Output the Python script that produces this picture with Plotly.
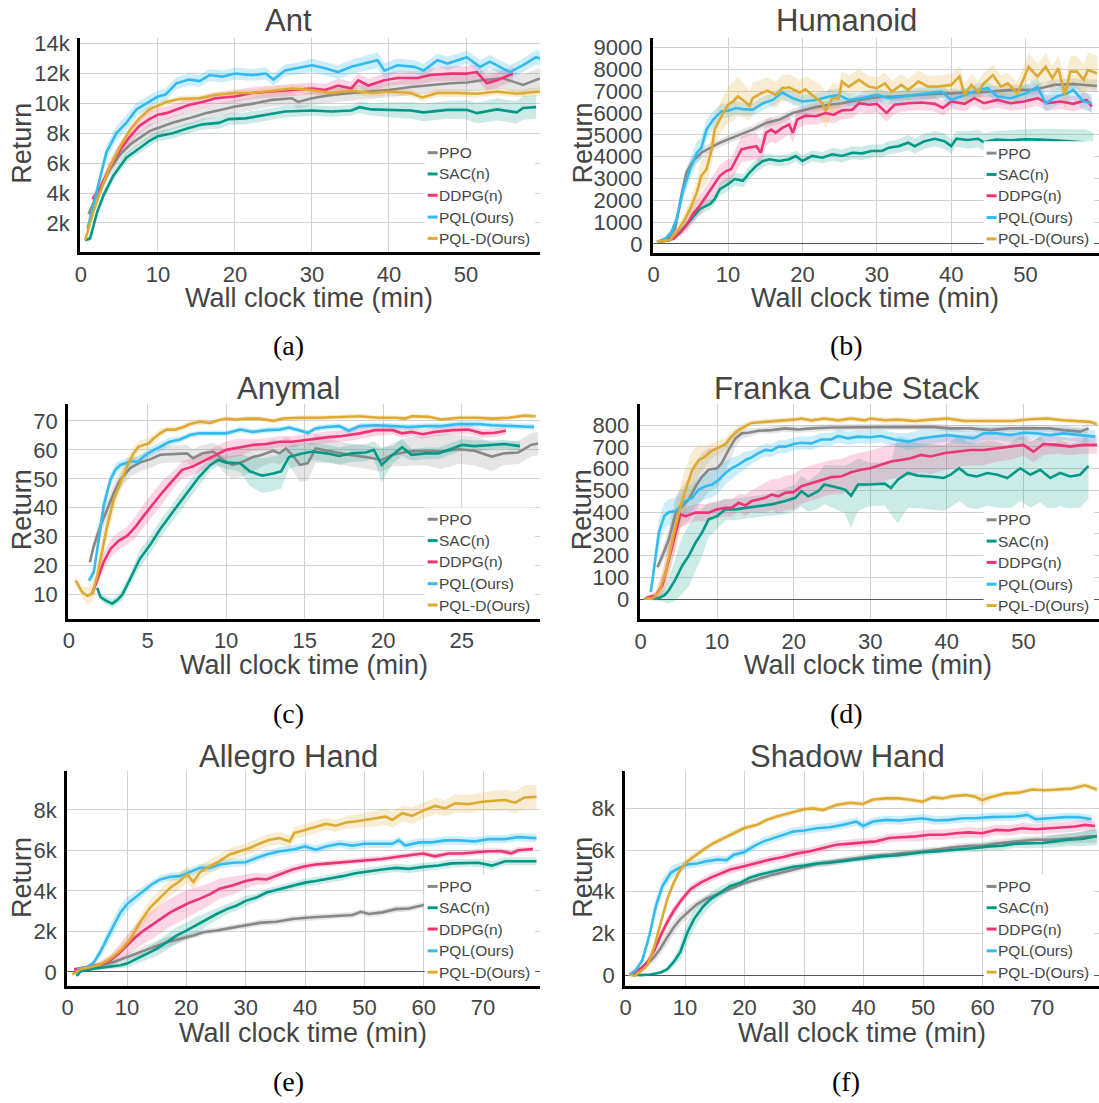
import plotly.graph_objects as go

W, H = 1099, 1103
FONT = "Liberation Sans, Arial, sans-serif"
SERIF = "Liberation Serif, Times New Roman, serif"
TXT = "#444444"

SERIES = ["PPO", "SAC(n)", "DDPG(n)", "PQL(Ours)", "PQL-D(Ours)"]
COLORS = ["#888888", "#009988", "#EE3377", "#33BBEE", "#DDAA33"]
BAND_RGB = ["136,136,136", "0,153,136", "238,51,119", "51,187,238", "221,170,51"]
BAND_ALPHA = [0.22, 0.2, 0.2, 0.25, 0.22]

# ---------------- (a) Ant ----------------
ANT_PPO_X = [1.0, 2.5, 3.8, 5.1, 6.4, 7.6, 8.9, 10, 11.9, 14, 16.2, 18.4, 20, 22.2, 24.8, 27.4, 28.2, 30, 32.5, 35.1, 37.7, 40, 42.8, 45.4, 48, 50.1, 52.3, 54.8, 57.4, 59.6]
ANT_PPO_Y = [2600, 4300, 5600, 6600, 7250, 7700, 8150, 8350, 8700, 9000, 9350, 9600, 9800, 9970, 10240, 10350, 10100, 10350, 10570, 10700, 10800, 10900, 11100, 11240, 11350, 11400, 11570, 11680, 11240, 11680]
ANT_PPO_S = [200, 300, 400, 450, 450, 450, 450, 450, 450, 450, 450, 450, 450, 450, 450, 450, 450, 450, 500, 500, 500, 500, 550, 550, 600, 600, 650, 700, 700, 700]
ANT_SAC_X = [0.56, 1.2, 2.1, 2.9, 4.2, 5.9, 7.6, 8.9, 10, 11.9, 14, 15.8, 17.9, 19.2, 21.4, 24, 26.5, 30, 32.5, 35.1, 36.2, 37.7, 40, 42.8, 44.5, 47.6, 50.1, 51.4, 54, 56.6, 57.4, 59.1]
ANT_SAC_Y = [840, 950, 2700, 3800, 5150, 6370, 7000, 7500, 7800, 8000, 8350, 8600, 8700, 8950, 9000, 9250, 9460, 9530, 9460, 9530, 9750, 9600, 9570, 9530, 9400, 9570, 9570, 9350, 9600, 9400, 9700, 9750]
ANT_SAC_S = [100, 150, 300, 350, 350, 350, 350, 350, 350, 350, 350, 350, 400, 400, 400, 400, 400, 350, 350, 350, 400, 400, 500, 550, 600, 600, 650, 700, 750, 750, 800, 800]
ANT_DDPG_X = [1.5, 2.5, 3.8, 5.1, 6.4, 7.6, 8.9, 10, 11.1, 12.4, 14, 15.8, 17.5, 20, 22.2, 24.8, 27.4, 30, 31.7, 33.4, 35.1, 36, 37.3, 39.4, 41.1, 43.7, 45.4, 48, 50.1, 51.4, 52.7, 54, 56.1]
ANT_DDPG_Y = [3600, 4300, 5800, 6900, 7800, 8500, 8950, 9250, 9350, 9600, 9900, 10100, 10350, 10460, 10700, 10800, 10900, 11000, 10900, 11200, 11000, 11550, 11200, 11550, 11700, 11700, 11900, 12000, 12000, 12100, 11350, 11550, 12000]
ANT_DDPG_S = [300, 400, 500, 500, 500, 500, 500, 450, 450, 450, 450, 400, 400, 400, 400, 400, 400, 400, 400, 450, 450, 450, 450, 450, 450, 450, 450, 500, 500, 500, 500, 500, 500]
ANT_PQL_X = [0.86, 2.5, 3.3, 4.6, 5.9, 7.2, 8.5, 10, 11, 12.4, 14, 15.4, 16.7, 18.4, 20, 22.2, 24, 25, 26.5, 28.2, 30, 31.7, 33.4, 35.1, 36.8, 38.5, 39.4, 41.1, 43.3, 44.5, 46.3, 47.6, 50.1, 51.8, 53.1, 55.7, 57.4, 59.1, 59.6]
ANT_PQL_Y = [1610, 5000, 6700, 8000, 8700, 9600, 10000, 10460, 10600, 11350, 11600, 11500, 11900, 11800, 12000, 11900, 12000, 11600, 12200, 12350, 12560, 12350, 12100, 12450, 12670, 12900, 12200, 12560, 12450, 12200, 12900, 12670, 13100, 12450, 12800, 12100, 12560, 13100, 13000]
ANT_PQL_S = [200, 400, 500, 500, 500, 450, 450, 400, 400, 400, 400, 400, 400, 400, 400, 400, 400, 400, 400, 400, 450, 450, 450, 500, 500, 550, 500, 450, 450, 450, 450, 450, 450, 450, 450, 450, 450, 500, 500]
ANT_PQLD_X = [0.56, 1.6, 2.5, 3.8, 5.1, 6.4, 7.6, 8.9, 10, 11.1, 12.8, 15.4, 17.5, 20, 22.2, 24.8, 27.4, 30, 32.5, 35.1, 37.7, 40, 42.8, 44.3, 46.3, 48.8, 51.4, 54, 56.6, 59.6]
ANT_PQLD_Y = [840, 2700, 4050, 5800, 7100, 8250, 9000, 9600, 9850, 10100, 10300, 10350, 10570, 10700, 10700, 10850, 11000, 10900, 10700, 10850, 10700, 10800, 10700, 10400, 10700, 10700, 10650, 10800, 10650, 10800]
ANT_PQLD_S = [100, 200, 250, 300, 300, 300, 250, 250, 200, 200, 200, 200, 200, 250, 250, 250, 250, 250, 250, 250, 250, 250, 250, 250, 250, 250, 250, 250, 250, 300]

# ---------------- (b) Humanoid ----------------
HUM_PPO_X = [0.44, 1.8, 2.9, 3.8, 4.4, 5.3, 6.4, 7.6, 8.9, 10, 11.6, 13.3, 15.1, 16.9, 18.7, 20, 21.8, 23.6, 25.3, 27.6, 30, 32.4, 35.1, 37.8, 40, 42.7, 45.3, 48, 50.7, 52, 53.8, 56.4, 59.6]
HUM_PPO_Y = [90, 170, 700, 2360, 3270, 3800, 4180, 4410, 4640, 4790, 5015, 5240, 5545, 5700, 6000, 6120, 6270, 6380, 6450, 6600, 6730, 6760, 6830, 6880, 6900, 6940, 6980, 7060, 7060, 7140, 7290, 7330, 7240]
HUM_PPO_S = [50, 80, 150, 250, 250, 250, 250, 200, 200, 200, 200, 200, 200, 200, 200, 200, 200, 200, 200, 200, 200, 200, 200, 200, 200, 200, 250, 250, 250, 250, 250, 250, 300]
HUM_SAC_X = [0.44, 2.2, 3.6, 4.4, 5.3, 6.2, 7.6, 8.2, 8.9, 10, 10.9, 12, 12.9, 13.8, 14.7, 15.6, 16.9, 18.2, 19.1, 20, 21.3, 22.7, 24, 25.3, 26.7, 28, 29.3, 30.7, 31.6, 32.9, 34.2, 35.1, 36.4, 37.8, 39.1, 40, 40.7, 42.2, 43.6, 44.4, 46, 48, 50, 52, 54, 56, 58, 59.1]
HUM_SAC_Y = [90, 170, 545, 850, 1230, 1600, 1830, 2060, 2510, 2740, 2970, 2890, 3270, 3580, 3800, 3880, 3800, 3880, 4030, 3800, 4030, 3950, 4110, 4030, 4180, 4150, 4260, 4260, 4410, 4480, 4640, 4480, 4710, 4820, 4710, 4480, 4820, 4760, 4820, 4670, 4780, 4750, 4800, 4780, 4750, 4700, 4650, 4410]
HUM_SAC_S = [50, 80, 150, 200, 250, 250, 250, 250, 300, 300, 300, 300, 300, 300, 300, 250, 250, 250, 250, 250, 250, 250, 300, 300, 300, 300, 300, 300, 300, 300, 350, 350, 350, 350, 350, 350, 350, 400, 400, 400, 400, 450, 450, 500, 500, 550, 600, 700]
HUM_DDPG_X = [1.3, 2.7, 3.6, 4.4, 5.3, 6.2, 7.1, 8, 8.9, 9.8, 10.4, 11.1, 11.8, 12.7, 13.8, 14.4, 15.1, 15.8, 16.4, 17.3, 18.2, 18.7, 19.3, 20.4, 21.8, 23.1, 24.2, 25.3, 26.7, 27.6, 28.9, 30, 31.3, 32.4, 34.2, 36, 37.8, 38.9, 40, 41.8, 43.1, 44.4, 46.2, 48, 49.8, 51.6, 52.9, 54.7, 56.4, 58.2, 58.9]
HUM_DDPG_Y = [120, 240, 545, 850, 1380, 1760, 2210, 2670, 3120, 3350, 3420, 3880, 4330, 4410, 4480, 4180, 5090, 5240, 5090, 5320, 5470, 5090, 5700, 5880, 5850, 6000, 5920, 6120, 6150, 6450, 6380, 6420, 6000, 6380, 6450, 6480, 6420, 6230, 6530, 6420, 6680, 6450, 6600, 6450, 6530, 6680, 6450, 6530, 6420, 6600, 6300]
HUM_DDPG_S = [50, 100, 200, 300, 400, 450, 450, 500, 500, 500, 500, 550, 600, 600, 600, 600, 600, 550, 500, 500, 450, 450, 450, 400, 400, 400, 400, 400, 400, 400, 400, 400, 400, 400, 350, 350, 350, 350, 350, 350, 350, 350, 350, 350, 350, 350, 350, 350, 350, 350, 350]
HUM_PQL_X = [0.44, 1.6, 2.4, 3.1, 4, 4.9, 5.8, 6.4, 7.1, 8, 9.1, 10, 11.1, 12, 13.3, 14.7, 16, 17.3, 18.7, 20, 21.8, 23.6, 24.9, 26.2, 28, 30, 31.6, 33.3, 35.1, 36.9, 38.7, 40, 41.8, 43.6, 44.9, 46.2, 48, 50, 51.6, 52.7, 54.2, 55.6, 56.4, 57.8, 58.9]
HUM_PQL_Y = [90, 240, 545, 1150, 2500, 3420, 4180, 4400, 5240, 5700, 6075, 6100, 6230, 6180, 6150, 6450, 6600, 6940, 6680, 6530, 6600, 6760, 6830, 6600, 6680, 6830, 6680, 6760, 6830, 6900, 6980, 6600, 6830, 7060, 7140, 6760, 6680, 6900, 7200, 6450, 6760, 6900, 7060, 6530, 6450]
HUM_PQL_S = [50, 100, 200, 300, 400, 500, 500, 500, 450, 400, 350, 300, 300, 300, 300, 300, 300, 300, 300, 300, 300, 300, 300, 300, 300, 300, 300, 300, 300, 300, 300, 300, 300, 300, 300, 350, 350, 400, 400, 400, 400, 400, 400, 400, 400]
HUM_PQLD_X = [0.44, 2.2, 3.1, 4, 4.9, 5.8, 6.4, 7.1, 7.8, 8.2, 9.1, 10, 10.7, 11.3, 12, 12.9, 13.3, 14.4, 15.3, 16.4, 17.3, 18.2, 19.6, 20.4, 21.3, 22.7, 23.1, 24, 24.9, 25.3, 26.2, 27.6, 28.9, 30, 31.1, 32, 33.3, 34.2, 35.6, 36.9, 38.2, 40, 41.1, 41.8, 42.7, 43.6, 44.4, 45.6, 46.7, 47.6, 48.9, 49.8, 50.4, 51.6, 52.7, 53.6, 54.4, 55.3, 56, 56.9, 57.8, 58.4, 59.6]
HUM_PQLD_Y = [90, 170, 545, 1000, 1600, 2360, 3120, 3420, 4330, 5240, 5850, 6380, 6530, 6760, 6600, 6330, 6680, 6900, 7030, 6830, 7140, 7180, 6940, 7090, 6830, 6450, 6075, 6680, 6680, 7440, 7210, 7520, 7210, 7140, 7360, 6980, 7290, 7060, 7440, 7210, 7210, 7290, 7670, 6830, 7290, 6980, 7360, 7740, 7210, 7360, 6900, 7670, 8120, 7670, 8120, 7590, 8045, 6830, 7900, 7900, 7520, 7970, 7820]
HUM_PQLD_S = [50, 100, 200, 300, 400, 600, 700, 700, 700, 700, 700, 800, 900, 900, 800, 700, 700, 600, 600, 600, 600, 600, 600, 600, 700, 800, 800, 700, 600, 500, 500, 500, 500, 500, 500, 500, 500, 500, 500, 500, 500, 500, 500, 500, 500, 500, 500, 500, 500, 500, 500, 500, 600, 600, 600, 600, 600, 700, 700, 700, 700, 800, 800]

# ---------------- (c) Anymal ----------------
ANY_PPO_X = [1.33, 1.58, 2.0, 2.43, 2.85, 3.27, 3.9, 4.5, 5.2, 5.8, 6.65, 7.5, 7.9, 8.5, 9.2, 9.8, 10.4, 11.1, 11.7, 12.3, 13, 13.4, 13.8, 14.2, 14.7, 15.2, 15.7, 16.8, 17.8, 18.9, 19.9, 20.6, 21.6, 22.7, 23.7, 24.8, 25.8, 26.9, 27.7, 28.6, 29.4, 29.85]
ANY_PPO_Y = [21.2, 26.9, 33.7, 39.4, 45.1, 49.7, 53.7, 55.6, 56.8, 58.3, 58.6, 58.8, 57.1, 58.8, 59.4, 56.5, 54.8, 56.0, 57.5, 58.3, 59.7, 58.8, 60.5, 58.3, 54.8, 55.4, 60.5, 59.4, 58.3, 57.5, 56.5, 58.3, 59.4, 59.7, 59.4, 60.2, 59.7, 57.7, 58.8, 59.1, 61.7, 62.2]
ANY_PPO_S = [1, 2, 3, 3, 3, 3, 3, 3, 3, 3, 3, 3, 3, 3, 3, 4, 5, 5, 5, 4, 4, 4, 4, 5, 6, 6, 5, 4, 4, 4, 4, 4, 5, 5, 6, 5, 5, 5, 4, 4, 4, 4]
ANY_SAC_X = [1.8, 2.0, 2.3, 2.74, 3.06, 3.37, 3.9, 4.5, 5.2, 5.8, 6.65, 7.5, 8.3, 9.0, 9.5, 10, 10.9, 11.5, 12.3, 13, 13.5, 14, 14.7, 15.5, 16.4, 17.2, 18, 18.9, 19.4, 19.9, 20.6, 21.2, 21.8, 22.7, 23.5, 24.4, 25, 25.8, 26.9, 27.7, 28.7]
ANY_SAC_Y = [12.3, 9.2, 8.1, 6.9, 8.1, 9.8, 15.5, 22.3, 27.5, 32.6, 38.9, 45.1, 50.8, 54.8, 56.5, 55.6, 55.4, 52.6, 51.1, 51.8, 52.6, 57.5, 58.6, 59.4, 58.8, 57.9, 58.8, 59.1, 60.0, 54.8, 58.3, 60.9, 58.3, 58.8, 58.8, 60.5, 61.7, 61.3, 61.7, 62.0, 61.3]
ANY_SAC_S = [1, 1, 1.5, 1.5, 1.5, 2, 2, 3, 3, 3, 3, 3, 3, 2, 2, 2, 3, 5, 6, 6, 6, 4, 4, 3, 3, 3, 3, 3, 3, 6, 3, 3, 2, 2, 2, 2, 2, 2, 1.5, 1.5, 1.5]
ANY_DDPG_X = [1.48, 1.8, 2.2, 2.64, 3.16, 3.7, 4.2, 4.75, 5.4, 6.0, 6.65, 7.2, 7.9, 8.5, 9.2, 10, 10.9, 11.7, 12.6, 13.4, 14.2, 15.3, 16.4, 17.4, 18.5, 19.5, 20.6, 21.2, 21.8, 22.5, 23.3, 24.4, 25.4, 26.3, 27.1, 27.8]
ANY_DDPG_Y = [10.4, 15.5, 21.2, 25.8, 28.6, 30.3, 33.2, 37.2, 41.7, 45.7, 49.7, 53.1, 54.3, 56.0, 57.7, 60.0, 60.9, 61.7, 62.0, 62.8, 62.8, 63.6, 64.3, 64.8, 65.7, 66.8, 66.8, 65.7, 66.2, 65.4, 66.2, 66.8, 67.0, 65.7, 65.9, 66.6]
ANY_DDPG_S = [1, 2, 3, 3, 3, 3, 4, 4, 4, 4, 3, 3, 3, 3, 3, 3, 3, 2, 2, 2, 2, 2, 2, 2, 2, 2, 1.5, 1.5, 1.5, 1.5, 1.5, 1.5, 1.5, 1.5, 1.5, 1.5]
ANY_PQL_X = [1.27, 1.58, 1.9, 2.2, 2.64, 2.95, 3.27, 3.9, 4.43, 4.75, 5.2, 5.8, 6.4, 7.07, 7.7, 8.3, 9.0, 10, 10.9, 11.7, 12.6, 13.4, 14, 14.7, 15.2, 15.7, 16.4, 17.2, 17.8, 18.5, 19.5, 20.6, 21.6, 22.7, 23.7, 24.8, 26, 26.9, 28, 29.6]
ANY_PQL_Y = [14.9, 17.8, 29.2, 40.6, 49.7, 53.1, 54.8, 56.0, 56.0, 57.7, 59.4, 61.1, 62.8, 63.6, 65.1, 65.7, 65.7, 65.7, 67.0, 66.2, 66.8, 67.0, 67.7, 66.8, 65.9, 67.4, 67.9, 68.2, 66.6, 68.2, 68.5, 68.2, 67.9, 68.2, 68.2, 68.9, 68.9, 68.5, 68.2, 67.9]
ANY_PQL_S = [1, 2, 3, 3, 2, 2, 1.5, 1.5, 1.5, 1.5, 1.5, 1.5, 1.5, 1, 1, 1, 1, 1, 1, 1, 1, 1, 1, 1, 1, 1, 1, 1, 1, 1, 1, 1, 1, 1, 1, 1, 1, 1, 1, 1]
ANY_PQLD_X = [0.42, 0.84, 1.16, 1.48, 1.8, 2.1, 2.43, 2.85, 3.27, 3.7, 4.1, 4.43, 4.75, 5.06, 5.4, 5.8, 6.2, 6.75, 7.3, 7.7, 8.3, 9.0, 9.5, 10, 10.65, 11.3, 12.1, 13, 13.6, 14.7, 15.9, 17.2, 18.5, 19.7, 20.8, 21.4, 21.8, 22.9, 23.7, 24.8, 26, 26.9, 28, 29, 29.7]
ANY_PQLD_Y = [14.9, 10.9, 9.6, 10.4, 16.6, 24.6, 33.7, 42.9, 48.6, 54.3, 58.8, 61.1, 61.7, 62.2, 64.0, 65.7, 67.0, 67.0, 67.9, 68.9, 69.7, 69.3, 70.2, 70.8, 70.5, 70.8, 70.8, 70.0, 70.8, 71.1, 71.1, 71.4, 71.6, 71.1, 71.1, 70.8, 71.6, 71.4, 70.5, 71.1, 71.1, 70.8, 71.1, 71.8, 71.6]
ANY_PQLD_S = [1, 2, 3, 3, 4, 4, 4, 4, 3, 3, 2, 2, 2, 2, 1.5, 1.5, 1, 1, 1, 1, 1, 1, 0.8, 0.8, 0.8, 0.8, 0.8, 0.8, 0.8, 0.8, 0.8, 0.8, 0.8, 0.8, 0.8, 0.8, 0.8, 0.8, 0.8, 0.8, 0.8, 0.8, 0.8, 0.8, 0.8]

# ---------------- (d) Franka Cube Stack ----------------
FRA_PPO_X = [2.2, 2.86, 3.7, 4.6, 5.45, 6.3, 7.2, 8.05, 8.9, 10, 10.6, 11.5, 12.4, 13.2, 14.1, 15.4, 17.1, 18.9, 20.6, 22.3, 24.9, 27.5, 30.1, 32.7, 35.3, 37.9, 40.5, 43.1, 45.7, 48.3, 50.9, 53.5, 55.2, 57.4, 58.5]
FRA_PPO_Y = [147, 200, 276, 398, 428, 458, 519, 564, 595, 602, 625, 686, 739, 762, 765, 774, 777, 785, 780, 785, 789, 789, 792, 792, 792, 792, 785, 785, 777, 785, 785, 785, 777, 770, 785]
FRA_PPO_S = [20, 30, 50, 80, 90, 100, 110, 110, 100, 90, 80, 60, 40, 25, 20, 15, 15, 15, 15, 15, 15, 15, 15, 15, 15, 15, 15, 15, 15, 15, 15, 15, 20, 20, 20]
FRA_SAC_X = [0.5, 2.2, 3.1, 3.7, 4.6, 5.45, 6.3, 7.2, 8.05, 8.9, 10, 11.1, 12.4, 13.7, 15.4, 17.1, 18.9, 20.2, 21, 21.9, 23.2, 24, 25.4, 26.7, 27.5, 28.4, 30, 31.9, 32.7, 33.6, 34.9, 36.2, 37.9, 39.6, 40.5, 41.6, 42.7, 43.9, 45.3, 46.6, 47.9, 49.6, 50.9, 52.2, 53.5, 54.8, 56.1, 57.4, 58.5]
FRA_SAC_Y = [3, 3, 18, 41, 94, 155, 200, 261, 307, 367, 382, 413, 413, 420, 428, 436, 451, 466, 496, 473, 496, 527, 516, 504, 476, 527, 527, 531, 511, 549, 580, 568, 564, 557, 572, 602, 572, 564, 580, 572, 557, 602, 572, 595, 557, 580, 564, 572, 613]
FRA_SAC_S = [5, 10, 30, 60, 100, 130, 140, 130, 110, 80, 60, 50, 50, 50, 50, 50, 60, 60, 70, 70, 80, 90, 100, 110, 150, 120, 100, 100, 120, 200, 160, 150, 150, 150, 150, 150, 150, 150, 150, 150, 150, 150, 150, 150, 150, 150, 150, 150, 150]
FRA_DDPG_X = [0.7, 2, 2.86, 3.7, 4.6, 5.2, 5.9, 6.5, 7.2, 8.05, 8.9, 10, 11.1, 11.9, 12.8, 13.7, 14.5, 15.4, 16.3, 17.1, 18, 18.9, 20, 21, 22.3, 23.6, 24.9, 26.2, 27.5, 28.8, 30, 31.4, 32.7, 34, 35.3, 36.6, 37.9, 39.6, 41.4, 43.1, 44.8, 46.6, 48.3, 50, 51.3, 52.6, 54.4, 56.1, 57.8, 59.6]
FRA_DDPG_Y = [6, 18, 64, 185, 307, 390, 382, 390, 398, 398, 398, 413, 420, 420, 443, 431, 451, 458, 466, 481, 473, 489, 492, 519, 534, 549, 561, 564, 583, 595, 602, 618, 633, 640, 648, 663, 656, 671, 678, 686, 686, 693, 701, 709, 678, 713, 709, 701, 709, 709]
FRA_DDPG_S = [5, 20, 60, 80, 80, 60, 40, 40, 40, 40, 40, 40, 40, 40, 40, 50, 50, 60, 70, 70, 80, 80, 80, 80, 80, 80, 80, 80, 80, 80, 80, 80, 80, 80, 80, 80, 80, 80, 70, 70, 70, 60, 60, 50, 50, 50, 40, 40, 40, 40]
FRA_PQL_X = [1.34, 1.8, 2.4, 3.1, 3.7, 4.6, 5.2, 5.9, 6.75, 7.6, 8.5, 9.35, 10.2, 11.1, 11.9, 12.8, 13.7, 14.5, 15.4, 16.3, 17.1, 18, 18.9, 20, 21, 22.3, 23.6, 24.9, 25.8, 27.1, 28.4, 30, 31.4, 33.2, 34.9, 36.6, 38.4, 40.1, 41.8, 43.5, 44.8, 46.6, 48.3, 50, 51.8, 53.5, 55.2, 57.4, 59.4]
FRA_PQL_Y = [33, 155, 307, 382, 400, 405, 428, 451, 466, 504, 519, 527, 549, 580, 602, 618, 640, 652, 671, 686, 683, 701, 701, 713, 719, 716, 734, 734, 750, 739, 747, 744, 750, 734, 724, 739, 747, 754, 747, 739, 762, 762, 754, 765, 762, 754, 762, 754, 747]
FRA_PQL_S = [10, 50, 60, 60, 60, 60, 60, 60, 60, 60, 60, 60, 60, 50, 50, 40, 40, 30, 30, 30, 30, 30, 30, 30, 30, 30, 30, 30, 30, 30, 30, 30, 30, 30, 40, 40, 30, 30, 30, 30, 30, 30, 30, 30, 30, 30, 30, 30, 30]
FRA_PQLD_X = [0.5, 1.56, 2.4, 3.3, 4.2, 5.0, 5.9, 6.75, 7.6, 8.3, 9.1, 10, 11.1, 11.9, 12.8, 13.7, 14.5, 16.3, 18, 20, 21, 22.3, 24, 25.8, 27.5, 29.3, 30, 31.9, 33.6, 35.8, 37.9, 40.1, 42.3, 44.4, 46.6, 48.7, 50.9, 53.1, 55.2, 57, 58.7, 59.6]
FRA_PQLD_Y = [3, 3, 33, 124, 276, 398, 504, 595, 640, 652, 678, 693, 713, 747, 777, 795, 810, 815, 819, 825, 830, 822, 830, 822, 830, 822, 830, 822, 825, 819, 825, 830, 819, 819, 822, 819, 827, 830, 822, 819, 815, 804]
FRA_PQLD_S = [3, 5, 30, 60, 90, 100, 100, 90, 70, 50, 40, 30, 30, 25, 20, 15, 15, 12, 12, 12, 12, 12, 12, 12, 12, 12, 12, 12, 12, 12, 12, 12, 12, 12, 12, 12, 12, 12, 12, 12, 12, 12]

# ---------------- (e) Allegro Hand ----------------
ALL_PPO_X = [1.1, 3.3, 5.5, 7.8, 10, 12.2, 14.5, 16.7, 18.9, 21.2, 22.8, 25.1, 27.3, 30, 32.3, 35.1, 37.9, 40.7, 43.5, 46.3, 48, 49.4, 50.8, 53, 55.3, 57.5, 60]
ALL_PPO_Y = [80, 200, 330, 490, 730, 980, 1220, 1470, 1630, 1800, 1960, 2040, 2160, 2290, 2420, 2480, 2610, 2690, 2740, 2810, 2810, 2970, 2860, 2940, 3100, 3130, 3300]
ALL_PPO_S = [30, 50, 80, 100, 150, 200, 250, 250, 200, 150, 150, 150, 150, 150, 150, 150, 150, 150, 150, 150, 150, 150, 150, 150, 150, 150, 150]
ALL_SAC_X = [1.5, 2.2, 4.4, 6.6, 8.9, 10, 11.7, 13.4, 15, 16.7, 18.4, 20, 21.7, 23.4, 25.1, 26.8, 28.4, 30, 31.8, 33.5, 35.7, 37.9, 40, 41.8, 44.1, 46.3, 48.5, 50.8, 53, 55.3, 57.5, 59.9, 62.5, 64.7, 67, 69.2, 71.5, 73.7, 75.9, 79]
ALL_SAC_Y = [-200, 30, 160, 240, 330, 410, 650, 900, 1140, 1470, 1800, 2040, 2320, 2580, 2860, 3100, 3270, 3510, 3670, 3920, 4080, 4240, 4410, 4490, 4600, 4730, 4870, 4980, 5060, 5140, 5090, 5190, 5260, 5360, 5390, 5390, 5250, 5470, 5470, 5470]
ALL_SAC_S = [50, 50, 80, 100, 150, 200, 250, 300, 350, 400, 400, 400, 400, 350, 300, 250, 250, 250, 200, 200, 200, 200, 200, 200, 200, 200, 200, 200, 200, 200, 200, 200, 200, 200, 200, 200, 200, 200, 200, 200]
ALL_DDPG_X = [1.1, 3.3, 5.5, 7.2, 8.6, 10, 11.4, 12.8, 14.2, 15.6, 17.3, 18.9, 20.6, 22.3, 24, 25.6, 27.9, 30, 31.8, 33.5, 35.7, 37.9, 40, 41.8, 44.1, 46.3, 48.5, 50.8, 53, 55.3, 57.5, 59.9, 61.9, 64.2, 66.4, 68.7, 70.9, 73.1, 74.8, 75.9, 78.4]
ALL_DDPG_Y = [130, 240, 360, 570, 900, 1310, 1710, 2040, 2320, 2610, 2940, 3180, 3430, 3620, 3840, 4110, 4280, 4490, 4600, 4570, 4820, 5060, 5220, 5310, 5360, 5420, 5470, 5550, 5580, 5680, 5750, 5850, 5710, 5850, 5850, 5910, 5960, 5960, 5850, 6010, 6070]
ALL_DDPG_S = [50, 80, 150, 250, 400, 500, 600, 650, 700, 700, 700, 700, 650, 600, 550, 500, 450, 350, 300, 250, 200, 200, 200, 150, 150, 150, 150, 150, 150, 150, 150, 150, 150, 150, 150, 150, 150, 150, 150, 150, 150]
ALL_PQL_X = [1.6, 3.3, 4.4, 5.5, 6.6, 7.8, 8.9, 10, 11.4, 12.8, 14.2, 15.6, 17.3, 18.9, 20.6, 22.3, 24, 25.6, 27.9, 30, 31.8, 33.5, 35.7, 37.9, 40, 41.8, 43.5, 45.8, 48, 50, 52.5, 54.7, 55.8, 56.9, 59.2, 61.4, 63.6, 65.9, 68.7, 70.9, 73.7, 75.9, 79]
ALL_PQL_Y = [130, 240, 460, 980, 1630, 2290, 2940, 3350, 3670, 4000, 4330, 4570, 4700, 4730, 4930, 5140, 5140, 5310, 5390, 5420, 5630, 5800, 5960, 6040, 6200, 6040, 6200, 6330, 6240, 6330, 6330, 6330, 6500, 6240, 6400, 6400, 6500, 6500, 6450, 6560, 6560, 6660, 6610]
ALL_PQL_S = [50, 80, 150, 250, 350, 400, 400, 350, 300, 250, 200, 200, 200, 200, 200, 200, 200, 200, 200, 200, 200, 200, 200, 200, 200, 200, 200, 200, 200, 200, 200, 200, 200, 200, 200, 200, 200, 200, 200, 200, 200, 200, 200]
ALL_PQLD_X = [0.8, 2.2, 3.9, 5.5, 7.2, 8.9, 10.6, 12.2, 13.9, 15.6, 17.3, 18.9, 20.1, 21.2, 22.3, 24, 25.6, 27.3, 29, 30.7, 32.3, 34, 35.7, 37.4, 38.2, 40.2, 41.8, 43.5, 45.2, 46.9, 48.5, 49.9, 51.9, 53.6, 54.7, 56.4, 58, 59.9, 61.9, 63.6, 65.3, 67.5, 69.9, 72, 73.7, 75.4, 77, 79]
ALL_PQLD_Y = [-130, 130, 240, 360, 650, 1060, 1630, 2450, 3180, 3670, 4160, 4490, 4820, 4440, 4930, 5220, 5470, 5800, 5960, 6120, 6330, 6530, 6610, 6450, 6860, 7020, 7180, 7310, 7220, 7380, 7430, 7510, 7590, 7670, 7510, 7840, 7710, 7970, 8200, 8080, 8330, 8290, 8410, 8460, 8490, 8360, 8620, 8650]
ALL_PQLD_S = [50, 80, 100, 150, 200, 250, 300, 350, 400, 400, 400, 400, 400, 400, 350, 350, 350, 300, 300, 300, 300, 300, 300, 300, 300, 300, 300, 300, 300, 300, 350, 350, 400, 400, 400, 400, 400, 400, 400, 400, 450, 450, 450, 500, 500, 550, 600, 600]

# ---------------- (f) Shadow Hand ----------------
SHA_PPO_X = [1.2, 2.6, 3.7, 4.8, 5.9, 7, 8.1, 9.2, 10.4, 12, 13.7, 15.4, 17.6, 19.9, 22.1, 24.3, 26.5, 28.7, 31, 33.2, 35.4, 37.7, 39.9, 42.1, 44.3, 46.6, 48.8, 51, 53.3, 55.5, 57.7, 59.9, 62.2, 64.4, 66.6, 68.9, 71.1, 73.3, 75.5, 77.7, 79.2]
SHA_PPO_Y = [80, 320, 550, 870, 1300, 1820, 2300, 2690, 3010, 3410, 3680, 3880, 4150, 4410, 4600, 4790, 4940, 5100, 5260, 5390, 5470, 5580, 5670, 5740, 5780, 5860, 5900, 5990, 6050, 6150, 6210, 6210, 6310, 6370, 6420, 6500, 6500, 6530, 6580, 6660, 6660]
SHA_PPO_S = [30, 80, 150, 250, 300, 350, 350, 300, 250, 200, 150, 150, 150, 150, 150, 150, 150, 150, 150, 150, 150, 150, 150, 150, 150, 150, 150, 150, 150, 150, 150, 150, 200, 200, 200, 200, 250, 250, 250, 300, 300]
SHA_SAC_X = [0.6, 2.6, 4.2, 5.9, 7, 8.1, 9.2, 10.4, 11.5, 12.9, 14.3, 15.9, 17.6, 19.3, 20.9, 22.6, 24.3, 26, 28.2, 30, 32.1, 34.3, 36.5, 38.8, 41, 43.2, 45.5, 47.7, 49.9, 52.1, 54.4, 56.6, 58.8, 61.1, 63.3, 65.5, 67.7, 70, 72.2, 74.4, 76.7, 79.2]
SHA_SAC_Y = [30, 0, 30, 130, 290, 630, 1110, 2060, 2690, 3250, 3650, 3960, 4280, 4440, 4680, 4830, 4940, 5070, 5200, 5260, 5360, 5390, 5470, 5580, 5630, 5710, 5740, 5830, 5900, 5940, 5990, 6050, 6100, 6180, 6210, 6310, 6340, 6340, 6420, 6500, 6530, 6660]
SHA_SAC_S = [20, 20, 30, 50, 100, 200, 400, 500, 450, 400, 350, 300, 200, 150, 150, 150, 150, 150, 150, 150, 150, 150, 150, 150, 150, 150, 150, 150, 150, 150, 150, 150, 200, 200, 200, 200, 250, 250, 300, 300, 350, 400]
SHA_DDPG_X = [1.2, 2.6, 3.7, 4.8, 5.9, 7, 8.1, 9.5, 10.9, 12.6, 14.3, 15.9, 17.6, 19.9, 22.1, 24.3, 26.5, 28.7, 31, 33.2, 35.4, 37.7, 39.9, 42.1, 44.3, 46.6, 48.8, 51, 53.3, 55.5, 57.7, 59.9, 62.2, 64.4, 66.6, 68.9, 71.1, 73.3, 75.5, 77.2, 78.9]
SHA_DDPG_Y = [80, 320, 630, 1190, 1900, 2540, 3090, 3650, 4120, 4440, 4680, 4880, 5070, 5230, 5390, 5550, 5670, 5830, 5940, 6100, 6260, 6310, 6370, 6420, 6580, 6620, 6660, 6740, 6740, 6810, 6850, 6810, 6970, 6940, 7050, 7000, 7050, 7100, 7130, 7210, 7160]
SHA_DDPG_S = [30, 80, 150, 200, 250, 250, 250, 200, 200, 200, 200, 200, 200, 200, 200, 200, 200, 200, 200, 200, 200, 200, 200, 200, 200, 200, 250, 250, 250, 250, 250, 250, 250, 250, 250, 250, 250, 250, 250, 250, 250]
SHA_PQL_X = [0.6, 1.7, 2.8, 4, 5.1, 6.2, 7.6, 9, 10.4, 12, 13.7, 15.4, 17, 18.2, 19.9, 21.5, 23.2, 24.8, 26.5, 28.2, 30, 32.1, 34.3, 36.5, 38.8, 39.9, 41.6, 43.8, 46, 48.2, 49.9, 52.1, 54.4, 56.6, 58.8, 61.1, 63.3, 65.5, 67.5, 68.9, 71.1, 73.9, 76.1, 78.3]
SHA_PQL_Y = [30, 240, 710, 1900, 3330, 4280, 4910, 5150, 5310, 5360, 5470, 5550, 5520, 5780, 5900, 6180, 6420, 6580, 6740, 6890, 6940, 7050, 7100, 7210, 7370, 7160, 7370, 7450, 7420, 7480, 7530, 7420, 7450, 7530, 7530, 7580, 7610, 7610, 7690, 7480, 7530, 7580, 7580, 7480]
SHA_PQL_S = [20, 80, 200, 300, 400, 350, 300, 250, 200, 200, 200, 200, 200, 200, 200, 200, 200, 200, 200, 200, 200, 200, 200, 200, 200, 200, 200, 200, 200, 200, 200, 200, 200, 200, 200, 200, 200, 200, 200, 200, 200, 200, 200, 200]
SHA_PQLD_X = [0.6, 1.45, 2.6, 3.7, 4.8, 5.9, 7, 8.1, 9.2, 10.4, 11.5, 13.1, 14.8, 16.5, 18.1, 19.9, 22.1, 23.7, 25.4, 27.6, 30, 31.5, 33.2, 35.4, 37.7, 39.9, 41.6, 43.8, 46, 48.2, 49.9, 51.6, 53.3, 54.9, 57.2, 58.8, 59.9, 61.6, 63.8, 66.1, 68.3, 70.5, 72.8, 75, 77.2, 79.2]
SHA_PQLD_Y = [30, -30, 190, 480, 1350, 2540, 3650, 4440, 5070, 5470, 5710, 6020, 6340, 6580, 6810, 7050, 7210, 7450, 7610, 7770, 7960, 8000, 7920, 8160, 8270, 8210, 8430, 8480, 8480, 8400, 8320, 8530, 8480, 8590, 8640, 8560, 8400, 8560, 8720, 8750, 8910, 8870, 8910, 8950, 9110, 8910]
SHA_PQLD_S = [20, 20, 50, 100, 200, 250, 250, 200, 200, 200, 150, 150, 150, 150, 150, 150, 120, 120, 120, 120, 120, 120, 120, 120, 120, 120, 120, 120, 120, 120, 120, 120, 120, 120, 120, 150, 300, 150, 120, 120, 120, 120, 120, 120, 120, 150]

# ---------------- tick labels ----------------
X_TICKS_60 = [0, 10, 20, 30, 40, 50]
X_TICKS_30 = [0, 5, 10, 15, 20, 25]
X_TICKS_80 = [0, 10, 20, 30, 40, 50, 60, 70]
ANT_Y_TICKS = [2000, 4000, 6000, 8000, 10000, 12000, 14000]
ANT_Y_TEXT = ["2k", "4k", "6k", "8k", "10k", "12k", "14k"]
HUM_Y_TICKS = [0, 1000, 2000, 3000, 4000, 5000, 6000, 7000, 8000, 9000]
HUM_Y_TEXT = ["0", "1000", "2000", "3000", "4000", "5000", "6000", "7000", "8000", "9000"]
ANY_Y_TICKS = [10, 20, 30, 40, 50, 60, 70]
ANY_Y_TEXT = ["10", "20", "30", "40", "50", "60", "70"]
FRA_Y_TICKS = [0, 100, 200, 300, 400, 500, 600, 700, 800]
FRA_Y_TEXT = ["0", "100", "200", "300", "400", "500", "600", "700", "800"]
HAND_Y_TICKS = [0, 2000, 4000, 6000, 8000]
HAND_Y_TEXT = ["0", "2k", "4k", "6k", "8k"]

# ---------------- layout (pixel geometry) ----------------
# box = (axis-line x, top, right, axis-line y); xcal = (px of x=0, px per unit); ycal = (px of y=0, px per unit)
PANELS = [
    dict(title="Ant", cap="(a)", box=(73, 32, 537, 250), xcal=(74.0, 7.767), ycal=(249.0, 0.015067),
         xt=X_TICKS_60, yt=ANT_Y_TICKS, ytt=ANT_Y_TEXT, tx=284, ty=15, lx=305, ly=295, rx=16, ry=138, cx=284, cy=343,
         data=[(ANT_PPO_X, ANT_PPO_Y, ANT_PPO_S), (ANT_SAC_X, ANT_SAC_Y, ANT_SAC_S), (ANT_DDPG_X, ANT_DDPG_Y, ANT_DDPG_S),
               (ANT_PQL_X, ANT_PQL_Y, ANT_PQL_S), (ANT_PQLD_X, ANT_PQLD_Y, ANT_PQLD_S)]),
    dict(title="Humanoid", cap="(b)", box=(649, 32, 1099, 250.5), xcal=(650.0, 7.5), ycal=(240.0, 0.022),
         xt=X_TICKS_60, yt=HUM_Y_TICKS, ytt=HUM_Y_TEXT, tx=845, ty=15, lx=874, ly=295, rx=580, ry=138, cx=845, cy=343,
         data=[(HUM_PPO_X, HUM_PPO_Y, HUM_PPO_S), (HUM_SAC_X, HUM_SAC_Y, HUM_SAC_S), (HUM_DDPG_X, HUM_DDPG_Y, HUM_DDPG_S),
               (HUM_PQL_X, HUM_PQL_Y, HUM_PQL_S), (HUM_PQLD_X, HUM_PQLD_Y, HUM_PQLD_S)]),
    dict(title="Anymal", cap="(c)", box=(61, 402, 537, 620), xcal=(63.33, 15.8), ycal=(623.3, 2.923),
         xt=X_TICKS_30, yt=ANY_Y_TICKS, ytt=ANY_Y_TEXT, tx=284, ty=386, lx=300, ly=665, rx=16, ry=508, cx=284, cy=714,
         data=[(ANY_PPO_X, ANY_PPO_Y, ANY_PPO_S), (ANY_SAC_X, ANY_SAC_Y, ANY_SAC_S), (ANY_DDPG_X, ANY_DDPG_Y, ANY_DDPG_S),
               (ANY_PQL_X, ANY_PQL_Y, ANY_PQL_S), (ANY_PQLD_X, ANY_PQLD_Y, ANY_PQLD_S)]),
    dict(title="Franka Cube Stack", cap="(d)", box=(635.7, 402, 1099, 620.5), xcal=(638.0, 7.7), ycal=(598.7, 0.2197),
         xt=X_TICKS_60, yt=FRA_Y_TICKS, ytt=FRA_Y_TEXT, tx=846, ty=386, lx=867, ly=665, rx=580, ry=508, cx=845, cy=714,
         data=[(FRA_PPO_X, FRA_PPO_Y, FRA_PPO_S), (FRA_SAC_X, FRA_SAC_Y, FRA_SAC_S), (FRA_DDPG_X, FRA_DDPG_Y, FRA_DDPG_S),
               (FRA_PQL_X, FRA_PQL_Y, FRA_PQL_S), (FRA_PQLD_X, FRA_PQLD_Y, FRA_PQLD_S)]),
    dict(title="Allegro Hand", cap="(e)", box=(60, 772, 537, 990.5), xcal=(62.0, 5.967), ycal=(974.7, 0.02042),
         xt=X_TICKS_80, yt=HAND_Y_TICKS, ytt=HAND_Y_TEXT, tx=284, ty=757, lx=299, ly=1036, rx=16, ry=879, cx=284, cy=1085,
         data=[(ALL_PPO_X, ALL_PPO_Y, ALL_PPO_S), (ALL_SAC_X, ALL_SAC_Y, ALL_SAC_S), (ALL_DDPG_X, ALL_DDPG_Y, ALL_DDPG_S),
               (ALL_PQL_X, ALL_PQL_Y, ALL_PQL_S), (ALL_PQLD_X, ALL_PQLD_Y, ALL_PQLD_S)]),
    dict(title="Shadow Hand", cap="(f)", box=(621, 772, 1099, 990.5), xcal=(623.0, 5.983), ycal=(978.0, 0.02103),
         xt=X_TICKS_80, yt=HAND_Y_TICKS, ytt=HAND_Y_TEXT, tx=846, ty=757, lx=861, ly=1036, rx=580, ry=879, cx=845, cy=1085,
         data=[(SHA_PPO_X, SHA_PPO_Y, SHA_PPO_S), (SHA_SAC_X, SHA_SAC_Y, SHA_SAC_S), (SHA_DDPG_X, SHA_DDPG_Y, SHA_DDPG_S),
               (SHA_PQL_X, SHA_PQL_Y, SHA_PQL_S), (SHA_PQLD_X, SHA_PQLD_Y, SHA_PQLD_S)]),
]


def pxx(px):
    return px / W


def pxy(py):
    return 1 - py / H


fig = go.Figure()
layout = dict(width=W, height=H, autosize=False, margin=dict(l=0, r=0, t=0, b=0),
              paper_bgcolor="white", plot_bgcolor="white", showlegend=False,
              font=dict(family=FONT, color=TXT))
shapes = []
annotations = []

for i, p in enumerate(PANELS, start=1):
    xa = "x" if i == 1 else f"x{i}"
    ya = "y" if i == 1 else f"y{i}"
    lx0, top, right, ly0 = p["box"]
    dl, dr = lx0 + 1.5, right
    dt, db = top, ly0 - 1.5
    x0, kx = p["xcal"]
    y0, ky = p["ycal"]
    xr0 = (dl - x0) / kx
    if xr0 >= 0:
        xr0 = -0.1
    xr = [xr0, (dr - x0) / kx]
    yr = [(y0 - db) / ky, (y0 - dt) / ky]

    # bands
    for (X, Y, S), rgb, a in zip(p["data"], BAND_RGB, BAND_ALPHA):
        hi = [y + s for y, s in zip(Y, S)]
        lo = [y - s for y, s in zip(Y, S)]
        fig.add_trace(go.Scatter(x=list(X) + list(X)[::-1], y=hi + lo[::-1], fill="toself",
                                 fillcolor=f"rgba({rgb},{a})", line=dict(width=0), mode="lines",
                                 hoverinfo="skip", showlegend=False, xaxis=xa, yaxis=ya))
    # mean lines
    for (X, Y, S), name, col in zip(p["data"], SERIES, COLORS):
        fig.add_trace(go.Scatter(x=X, y=Y, mode="lines", name=name, line=dict(color=col, width=2.6),
                                 showlegend=False, xaxis=xa, yaxis=ya))

    common = dict(showline=True, linecolor="black", linewidth=3, mirror=False, showgrid=True,
                  gridcolor="#d2d2d2", gridwidth=1.3, ticks="", tickfont=dict(family=FONT, size=22, color=TXT),
                  fixedrange=True)
    layout["xaxis" if i == 1 else f"xaxis{i}"] = dict(
        common, domain=[pxx(dl), pxx(dr)], range=xr, anchor=ya, tickmode="array", tickvals=p["xt"],
        zeroline=False, ticklabelstandoff=0)
    layout["yaxis" if i == 1 else f"yaxis{i}"] = dict(
        common, domain=[pxy(db), pxy(dt)], range=yr, anchor=xa, tickmode="array", tickvals=p["yt"],
        ticktext=p["ytt"], zeroline=True, zerolinecolor="#555555", zerolinewidth=1.2, ticklabelstandoff=3)

    # titles
    annotations.append(dict(x=pxx(p["tx"]), y=pxy(p["ty"]), xref="paper", yref="paper", text=p["title"],
                            showarrow=False, xanchor="center", yanchor="middle",
                            font=dict(family=FONT, size=31, color=TXT)))
    annotations.append(dict(x=pxx(p["lx"]), y=pxy(p["ly"]), xref="paper", yref="paper",
                            text="Wall clock time (min)", showarrow=False, xanchor="center", yanchor="middle",
                            font=dict(family=FONT, size=27, color=TXT)))
    annotations.append(dict(x=pxx(p["rx"]), y=pxy(p["ry"]), xref="paper", yref="paper", text="Return",
                            textangle=-90, showarrow=False, xanchor="center", yanchor="middle",
                            font=dict(family=FONT, size=27, color=TXT)))
    annotations.append(dict(x=pxx(p["cx"]), y=pxy(p["cy"]), xref="paper", yref="paper", text=p["cap"],
                            showarrow=False, xanchor="center", yanchor="middle",
                            font=dict(family=SERIF, size=28, color="black")))

    # legend box (drawn manually, bottom right inside the plot)
    shapes.append(dict(type="rect", xref="paper", yref="paper", layer="above",
                       x0=pxx(right - 116), x1=pxx(right - 5), y0=pxy(ly0 - 2), y1=pxy(ly0 - 114),
                       fillcolor="white", line=dict(width=0)))
    offs = [102, 80.5, 59, 37, 15.5]
    for name, col, off in zip(SERIES, COLORS, offs):
        yy = ly0 - off
        shapes.append(dict(type="line", xref="paper", yref="paper", layer="above",
                           x0=pxx(right - 113), x1=pxx(right - 103), y0=pxy(yy), y1=pxy(yy),
                           line=dict(color=col, width=3)))
        annotations.append(dict(x=pxx(right - 104), y=pxy(yy), xref="paper", yref="paper", text=name,
                                showarrow=False, xanchor="left", yanchor="middle",
                                font=dict(family=FONT, size=15.5, color=TXT)))

layout["shapes"] = shapes
layout["annotations"] = annotations
fig.update_layout(**layout)

fig.write_html("out.html", include_plotlyjs=True, config={"displayModeBar": False},
               post_script="document.body.style.margin='0';")
